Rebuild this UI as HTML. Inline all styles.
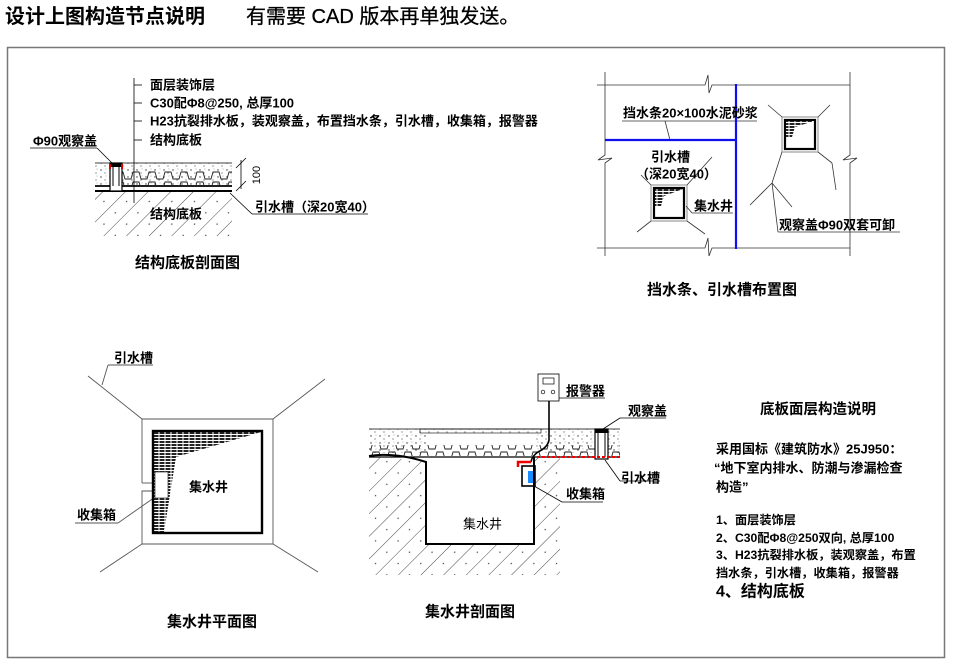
<!DOCTYPE html>
<html><head><meta charset="utf-8"><style>
html,body{margin:0;padding:0;background:#fff;width:955px;height:662px;overflow:hidden}
svg{display:block}
text{font-family:"Liberation Sans","Noto Sans CJK SC",sans-serif;fill:#000;font-weight:bold;dominant-baseline:central}
</style></head><body>
<svg width="955" height="662" viewBox="0 0 955 662" xmlns="http://www.w3.org/2000/svg">
<defs>
<pattern id="hatch" width="16" height="16" patternUnits="userSpaceOnUse" patternTransform="rotate(45)">
<line x1="0" y1="0" x2="0" y2="16" stroke="#333" stroke-width="0.9"/>
<circle cx="8" cy="5" r="0.7" fill="#444"/>
</pattern>
<pattern id="conc" width="9" height="7" patternUnits="userSpaceOnUse">
<circle cx="2" cy="2" r="0.7" fill="#333"/><circle cx="6" cy="5" r="0.6" fill="#555"/><circle cx="7" cy="1" r="0.4" fill="#555"/>
</pattern>
<pattern id="lines" width="6" height="3" patternUnits="userSpaceOnUse">
<rect width="6" height="3" fill="#fff"/><rect width="6" height="2" fill="#222"/><rect x="2" y="0.5" width="2" height="1" fill="#fff"/>
</pattern>
<pattern id="corr" width="16" height="10" patternUnits="userSpaceOnUse">
<path d="M0,9 L3,9 L5,2 L11,2 L13,9 L16,9" fill="none" stroke="#222" stroke-width="0.9"/>
</pattern>
</defs>

<text x="5" y="17" style="font-size:20px">设计上图构造节点说明</text>
<text x="246" y="17" style="font-size:20px;font-weight:normal;stroke:#000;stroke-width:0.3">有需要 CAD 版本再单独发送。</text>
<rect x="7.5" y="47.5" width="937" height="610" fill="none" stroke="#777" stroke-width="1.5"/>

<!-- Section 1 -->
<g stroke="#000" stroke-width="0.8" fill="none">
<line x1="134" y1="78" x2="134" y2="203"/>
<line x1="134" y1="85" x2="142" y2="85"/><line x1="134" y1="103" x2="142" y2="103"/>
<line x1="134" y1="121" x2="142" y2="121"/><line x1="134" y1="140" x2="142" y2="140"/>
<line x1="30" y1="148" x2="97" y2="148"/><line x1="97" y1="148" x2="112" y2="163"/>
</g>
<g style="font-size:13px">
<text x="150" y="85">面层装饰层</text>
<text x="150" y="103">C30配Φ8@250, 总厚100</text>
<text x="150" y="121">H23抗裂排水板，装观察盖，布置挡水条，引水槽，收集箱，报警器</text>
<text x="150" y="140">结构底板</text>
<text x="33" y="141">Φ90观察盖</text>
</g>
<rect x="95" y="163" width="137" height="22" fill="url(#conc)"/>
<rect x="122" y="170" width="110" height="15" fill="url(#corr)"/>
<rect x="95" y="191" width="137" height="45" fill="url(#hatch)"/>
<g stroke="#000" fill="none">
<line x1="95" y1="163" x2="232" y2="163" stroke-width="0.8"/>
<line x1="95" y1="186" x2="232" y2="186" stroke-width="1.8"/>
<line x1="95" y1="191" x2="232" y2="191" stroke-width="2"/>
<rect x="110" y="163" width="12" height="28" stroke-width="1.2" fill="#fff"/>
<line x1="113" y1="167" x2="113" y2="186"/><line x1="119" y1="167" x2="119" y2="186"/>
<line x1="241" y1="160" x2="241" y2="189" stroke-width="0.8"/>
<line x1="236" y1="168" x2="246" y2="158" stroke-width="0.8"/><line x1="236" y1="191" x2="246" y2="181" stroke-width="0.8"/>
<line x1="230" y1="193" x2="252" y2="214" stroke-width="0.8"/><line x1="252" y1="214" x2="368" y2="214" stroke-width="0.8"/>
</g>
<rect x="110" y="163" width="12" height="4" fill="#000"/>
<rect x="109" y="164" width="2" height="5" fill="#d00"/><rect x="121" y="164" width="2" height="5" fill="#d00"/>
<text x="257" y="175" transform="rotate(-90 257 175)" style="font-size:11px;font-weight:normal;text-anchor:middle">100</text>
<text x="255" y="207" style="font-size:13px">引水槽（深20宽40）</text>
<text x="150" y="214" style="font-size:13px">结构底板</text>
<text x="135" y="263" style="font-size:15px">结构底板剖面图</text>

<!-- Section 2 -->
<g stroke="#333" stroke-width="0.8" fill="none">
<path d="M597,85 L705,85 L708,75 L709,93 L712,85 L850,85"/>
<path d="M597,248 L705,248 L708,238 L709,256 L712,248 L850,248"/>
<path d="M605,72 L605,155 L598,160 L612,158 L605,163 L605,256"/>
<path d="M850,72 L850,155 L843,160 L857,158 L850,163 L850,256"/>
<rect x="651" y="185" width="36" height="36" stroke="#888" stroke-width="1"/>
<rect x="782" y="117" width="36" height="35" stroke="#888" stroke-width="1"/>
<line x1="651" y1="185" x2="641" y2="175"/><line x1="687" y1="185" x2="712" y2="157"/>
<line x1="651" y1="221" x2="637" y2="232"/><line x1="687" y1="221" x2="705" y2="234"/>
<line x1="782" y1="117" x2="768" y2="105"/><line x1="818" y1="117" x2="830" y2="105"/>
<line x1="782" y1="152" x2="772" y2="183"/><line x1="818" y1="152" x2="832" y2="163"/>
<line x1="832" y1="163" x2="836" y2="190"/>
<line x1="772" y1="183" x2="750" y2="205"/><line x1="772" y1="183" x2="792" y2="207"/><line x1="772" y1="183" x2="778" y2="232"/>
<line x1="778" y1="232" x2="900" y2="232"/>
<line x1="622" y1="121" x2="757" y2="121"/><line x1="665" y1="121" x2="670" y2="140"/>
<line x1="692" y1="213" x2="733" y2="213"/><line x1="692" y1="213" x2="686" y2="206"/>
</g>
<g stroke="#000" stroke-width="2.2" fill="none">
<rect x="654" y="188" width="30" height="30"/><rect x="785" y="120" width="30" height="29"/>
</g>
<polygon points="655,189 683,189 664,196 661,206 655,206" fill="url(#lines)"/>
<polygon points="786,121 814,121 795,127 792,137 786,137" fill="url(#lines)"/>
<g stroke="#1010ee" stroke-width="2.2"><line x1="736" y1="84" x2="736" y2="249"/><line x1="605" y1="140" x2="736" y2="140"/></g>
<g style="font-size:13px">
<text x="623" y="113">挡水条20×100水泥砂浆</text>
<text x="651" y="157">引水槽</text>
<text x="636" y="174">（深20宽40）</text>
<text x="694" y="206">集水井</text>
<text x="779" y="225">观察盖Φ90双套可卸</text>
</g>
<text x="647" y="290" style="font-size:15px">挡水条、引水槽布置图</text>

<!-- Section 3 -->
<g stroke="#555" stroke-width="0.9" fill="none">
<path d="M142,483 L142,419 L273,419 L273,544 L142,544 L142,491 L153,491"/>
<line x1="142" y1="483" x2="153" y2="483"/>
<line x1="142" y1="419" x2="88" y2="376"/><line x1="273" y1="419" x2="325" y2="379"/>
<line x1="142" y1="544" x2="100" y2="572"/><line x1="273" y1="544" x2="318" y2="572"/>
<line x1="108" y1="365" x2="153" y2="365"/><line x1="108" y1="365" x2="102" y2="385"/>
<line x1="75" y1="523" x2="118" y2="523"/><line x1="118" y1="523" x2="158" y2="495"/>
</g>
<polygon points="154,432 261,432 176,457 164,532 154,532" fill="url(#lines)"/>
<rect x="155" y="472" width="13" height="26" fill="#fff" stroke="#333" stroke-width="0.7"/>
<rect x="153" y="431" width="109" height="102" fill="none" stroke="#000" stroke-width="2.4"/>
<g style="font-size:13px">
<text x="114" y="358">引水槽</text>
<text x="189" y="487">集水井</text>
<text x="77" y="515">收集箱</text>
</g>
<text x="167" y="622" style="font-size:15px">集水井平面图</text>

<!-- Section 4 -->
<rect x="369" y="429" width="251" height="24" fill="url(#conc)"/>
<rect x="426" y="433" width="110" height="20" fill="#fff"/>
<rect x="369" y="445" width="251" height="11" fill="url(#corr)"/>
<path d="M369,457 L420,460 L426,462 L426,544 L534,544 L534,457 L560,457 L560,575 L369,575 Z" fill="url(#hatch)"/>
<g stroke="#000" fill="none">
<line x1="369" y1="429" x2="620" y2="429" stroke-width="0.8"/>
<rect x="420" y="429" width="121" height="4" stroke-width="0.6"/>
<line x1="369" y1="457" x2="620" y2="457" stroke-width="1.2"/>
<path d="M369,456 Q395,452 426,462 L426,544 L534,544 L534,457" stroke-width="2"/>
<rect x="538" y="374" width="21" height="27" stroke-width="0.8" fill="#fff"/>
<rect x="543" y="378" width="11" height="6" stroke-width="0.7"/>
<circle cx="543" cy="392" r="1.8" stroke-width="0.7"/><circle cx="553" cy="392" r="1.8" stroke-width="0.7"/>
<path d="M549,401 L549,440 Q548,447 538,452 Q532,456 531,462" stroke-width="1.6"/>
<rect x="522" y="466" width="13" height="20" stroke-width="1.6"/>
<rect x="595" y="429" width="13" height="30" stroke-width="1.2" fill="#fff"/>
<line x1="598" y1="433" x2="598" y2="457"/><line x1="605" y1="433" x2="605" y2="457"/>
<g stroke-width="0.8">
<line x1="559" y1="398" x2="605" y2="398"/>
<line x1="620" y1="418" x2="666" y2="418"/><line x1="620" y1="418" x2="603" y2="429"/>
<line x1="605" y1="460" x2="620" y2="481"/><line x1="620" y1="481" x2="660" y2="481"/>
<line x1="534" y1="486" x2="562" y2="502"/><line x1="562" y1="502" x2="603" y2="502"/>
</g>
</g>
<rect x="595" y="429" width="13" height="4" fill="#000"/>
<line x1="537" y1="457" x2="620" y2="457" stroke="#e00" stroke-width="2" stroke-dasharray="3,2"/>
<path d="M518,467 L518,462 L531,462" stroke="#e00" stroke-width="2.5" fill="none"/>
<rect x="528" y="471" width="5" height="12" fill="#1a8cff"/>
<g style="font-size:13px">
<text x="566" y="391">报警器</text>
<text x="628" y="411">观察盖</text>
<text x="621" y="478">引水槽</text>
<text x="566" y="494">收集箱</text>
<text x="463" y="524" style="font-weight:normal">集水井</text>
</g>
<text x="425" y="612" style="font-size:15px">集水井剖面图</text>

<!-- Section 5 -->
<text x="760" y="410" style="font-size:14.5px">底板面层构造说明</text>
<g style="font-size:13px">
<text x="716" y="449">采用国标《建筑防水》25J950：</text>
<text x="714" y="468">“地下室内排水、防潮与渗漏检查</text>
<text x="716" y="487">构造”</text>
</g>
<g style="font-size:12.2px">
<text x="716" y="520">1、面层装饰层</text>
<text x="716" y="538">2、C30配Φ8@250双向, 总厚100</text>
<text x="716" y="555">3、H23抗裂排水板，装观察盖，布置</text>
<text x="716" y="573">挡水条，引水槽，收集箱，报警器</text>
</g>
<text x="716" y="592" style="font-size:16px">4、结构底板</text>
</svg>
</body></html>
